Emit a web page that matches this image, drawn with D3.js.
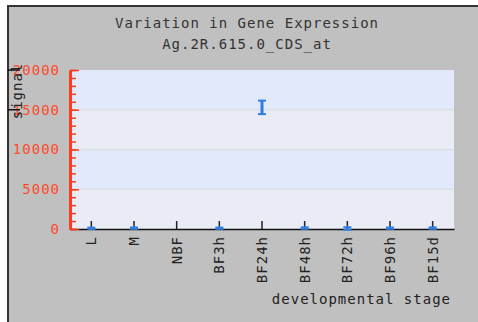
<!DOCTYPE html>
<html>
<head>
<meta charset="utf-8">
<script src="https://cdn.jsdelivr.net/npm/d3@7"></script>
<style>
  html, body { margin: 0; padding: 0; background: #fff; }
  text { font-family: "DejaVu Sans Mono", monospace; font-size: 14px; letter-spacing: 1px; }
</style>
</head>
<body>
<div class="chart"></div>
<script>
// chart data
const stages = ["L", "M", "NBF", "BF3h", "BF24h", "BF48h", "BF72h", "BF96h", "BF15d"];
const signalMean = [90, 110, null, 100, 15300, 120, 60, 100, 110];
const signalErr = [80, 90, null, 80, 850, 90, 160, 80, 90];
const yTicks = [0, 5000, 10000, 15000, 20000];
const titleLines = ["Variation in Gene Expression", "Ag.2R.615.0_CDS_at"];

const W = 478, H = 322;
const margin = { top: 70, right: 24, bottom: 93, left: 70 };
const width = W - margin.left - margin.right;
const height = H - margin.top - margin.bottom;

const svg = d3.select(".chart").append("svg")
    .attr("width", W)
    .attr("height", H)
    .style("display", "block");

// grey panel with dark top/left frame
svg.append("rect")
    .attr("x", 7).attr("y", 5)
    .attr("width", W - 7).attr("height", H - 5)
    .attr("fill", "#c0c0c0");
svg.append("path")
    .attr("d", `M8,${H} V6 H${W}`)
    .attr("fill", "none")
    .attr("stroke", "#333")
    .attr("stroke-width", 2);

// titles
svg.selectAll("text.title")
    .data(titleLines)
    .enter().append("text")
    .attr("class", "title")
    .attr("x", 247)
    .attr("y", (d, i) => 28 + i * 21)
    .attr("text-anchor", "middle")
    .attr("fill", "#333")
    .text(d => d);

const g = svg.append("g")
    .attr("transform", `translate(${margin.left},${margin.top})`);

const x = d3.scaleBand()
    .domain(stages)
    .range([0, width]);

const y = d3.scaleLinear()
    .domain([0, 20000])
    .range([height, 0]);

// alternating background bands
const bands = d3.pairs(yTicks);
g.selectAll("rect.band")
    .data(bands)
    .enter().append("rect")
    .attr("class", "band")
    .attr("x", 0)
    .attr("width", width)
    .attr("y", d => y(d[1]))
    .attr("height", d => y(d[0]) - y(d[1]))
    .attr("fill", (d, i) => i % 2 === 0 ? "#e9ecf5" : "#e1e9fb");

// gridlines
g.selectAll("line.grid")
    .data(yTicks.slice(1, -1))
    .enter().append("line")
    .attr("x1", 0).attr("x2", width)
    .attr("y1", d => y(d)).attr("y2", d => y(d))
    .attr("stroke", "#dcdfe6")
    .attr("stroke-width", 1.5);

// x axis
const xAxis = g.append("g")
    .attr("transform", `translate(0,${height})`)
    .call(d3.axisBottom(x).tickSizeInner(-8).tickSizeOuter(0).tickPadding(6));
xAxis.select(".domain").attr("stroke", "#111").attr("stroke-width", 1.5);
xAxis.selectAll(".tick line").attr("stroke", "#222").attr("stroke-width", 1.5);
xAxis.selectAll(".tick text")
    .attr("font-family", null).attr("font-size", null)
    .attr("fill", "#222")
    .attr("transform", "rotate(-90)")
    .attr("text-anchor", "end")
    .attr("x", -7)
    .attr("y", 0)
    .attr("dy", "0.35em");

// y axis (red) with minor ticks
const yMinor = g.append("g")
    .call(d3.axisRight(y).ticks(20).tickSize(6).tickFormat(""));
yMinor.select(".domain").remove();
yMinor.selectAll(".tick line").attr("stroke", "#ff3b1f").attr("stroke-width", 1.5);

const yAxis = g.append("g")
    .call(d3.axisRight(y).tickValues(yTicks).tickFormat(d3.format("d")).tickSize(9).tickSizeOuter(0));
yAxis.select(".domain").attr("stroke", "#ff3b1f").attr("stroke-width", 3);
yAxis.selectAll(".tick line").attr("stroke", "#ff3b1f").attr("stroke-width", 1.5);
yAxis.selectAll(".tick text")
    .attr("font-family", null).attr("font-size", null)
    .attr("fill", "#ff4a2a")
    .attr("text-anchor", "end")
    .attr("x", -10);

// stray black ticks near the signal label
g.selectAll("line.stray")
    .data(yTicks.slice(-2))
    .enter().append("line")
    .attr("x1", 8 - margin.left).attr("x2", 20 - margin.left)
    .attr("y1", d => y(d)).attr("y2", d => y(d))
    .attr("stroke", "#111").attr("stroke-width", 1.5);

// error bars
const points = stages.map((s, i) => ({ stage: s, mean: signalMean[i], err: signalErr[i] }))
    .filter(d => d.mean !== null);
const cx = d => x(d.stage) + x.bandwidth() / 2;
const lo = d => Math.max(d.mean - d.err, -200);
const eb = g.selectAll("g.eb")
    .data(points)
    .enter().append("g")
    .attr("class", "eb")
    .attr("stroke", "#2f7de1");
eb.append("line")
    .attr("x1", cx).attr("x2", cx)
    .attr("y1", d => y(d.mean + d.err)).attr("y2", d => y(lo(d)))
    .attr("stroke-width", 3);
eb.append("line")
    .attr("x1", d => cx(d) - 4).attr("x2", d => cx(d) + 4)
    .attr("y1", d => y(d.mean + d.err)).attr("y2", d => y(d.mean + d.err))
    .attr("stroke-width", 2);
eb.append("line")
    .attr("x1", d => cx(d) - 4).attr("x2", d => cx(d) + 4)
    .attr("y1", d => y(lo(d))).attr("y2", d => y(lo(d)))
    .attr("stroke-width", 2);

// axis titles
svg.append("text")
    .attr("x", 451)
    .attr("y", 304)
    .attr("text-anchor", "end")
    .attr("fill", "#222")
    .text("developmental stage");
svg.append("text")
    .attr("transform", "translate(22,91) rotate(-90)")
    .attr("text-anchor", "middle")
    .attr("fill", "#222")
    .text("signal");
</script>
</body>
</html>
